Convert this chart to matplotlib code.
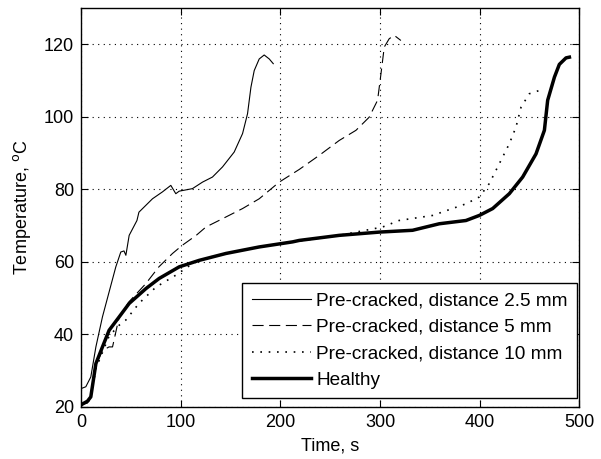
import matplotlib
matplotlib.use("Agg")
import matplotlib.pyplot as plt

plt.rcParams['font.family'] = ['Liberation Sans', 'DejaVu Sans']

# 2.5 mm pre-cracked (thin solid)
t_25 = [0, 4.7, 9.7, 14.8, 21.4, 28.1, 34.8, 39.8, 43, 44.9, 48.2, 56, 58, 71.6, 81.6, 90, 95, 98.4,
        111.7, 121.8, 131.8, 141.9, 153.6, 162, 167, 170.4, 173.7, 178.7, 183.7, 188.8, 192.8]
T_25 = [25, 25.5, 28.2, 36.5, 44.8, 51.7, 58.6, 62.7, 63, 61.8, 67.3, 71.4, 73.7, 77.4, 79.3, 81.1, 78.8, 79.5,
        80.2, 82, 83.4, 86.2, 90.3, 95.4, 100.9, 108.2, 112.8, 116, 117.1, 116, 114.7]

# 5 mm pre-cracked (dashed)
t_5 = [0, 6.3, 9.7, 14.8, 21.4, 28, 31.5, 38.2, 48.2, 65, 78, 91.7, 101.7, 115.5, 125.2, 141.9, 162, 178.7,
       198.8, 218.9, 239, 259, 275.8, 289, 297.5, 300.9, 304.2, 309.2, 314.3, 320.9]
T_5 = [20.5, 21, 22.7, 31.5, 35.5, 36.5, 36.5, 44.8, 49, 54, 58.6, 62.3, 64.6, 67.3, 69.6, 71.9, 74.7, 77.4,
       82, 85.5, 89.4, 93.5, 96.3, 99.9, 104.6, 111.9, 119.3, 121.6, 122.5, 121.1]

# 10 mm pre-cracked (dotted)
t_10 = [0, 6.3, 9.7, 14.8, 21.4, 28.1, 38.2, 44.8, 58, 75, 95, 111.7, 125, 145.3, 178.7, 212.2, 259,
        302.5, 319, 352.7, 386.2, 399.6, 409.6, 419.7, 429.7, 436.4, 441.5, 449.8, 459.8]
T_10 = [20.5, 21, 22.5, 30.5, 35, 39.5, 42.5, 43.9, 48.5, 53, 56.3, 59.5, 61, 62.3, 64.1, 65.5, 67.3,
        69.6, 71.4, 72.8, 76, 77.9, 81.6, 87.1, 92.6, 97.2, 102.7, 106.4, 107.3]

# Healthy (thick solid)
t_h = [0, 3, 6.3, 9.7, 14.8, 21.4, 28.1, 38.2, 48.2, 65, 78.3, 98.4, 118.5, 145.3, 178.7, 212.2, 218.9,
       259, 299.2, 332.6, 359.4, 386.2, 399.6, 413, 429.7, 443.1, 456.5, 464.9, 468.2, 475, 479.9, 486.6, 490]
T_h = [20.5, 21, 21.5, 22.7, 31.9, 36.5, 41.1, 44.8, 48.5, 52.6, 55.4, 58.6, 60.4, 62.3, 64.1, 65.5, 65.9,
       67.3, 68.2, 68.7, 70.5, 71.4, 72.8, 74.7, 78.8, 83.4, 89.8, 96.3, 104.6, 111, 114.5, 116.3, 116.5]

labels = ['Pre-cracked, distance 2.5 mm', 'Pre-cracked, distance 5 mm',
          'Pre-cracked, distance 10 mm', 'Healthy']

fig = plt.figure(figsize=(6.01, 4.59), dpi=100)
ax = fig.add_axes([0.135, 0.114, 0.829, 0.868])

ax.plot(t_25, T_25, color='black', lw=0.8, label=labels[0])
ax.plot(t_5, T_5, color='black', lw=0.8, ls=(0, (10, 5)), label=labels[1])
ax.plot(t_10, T_10, color='black', lw=1.2, ls=(0, (1, 4)), label=labels[2])
ax.plot(t_h, T_h, color='black', lw=2.5, label=labels[3])

ax.set_xlim(0, 500)
ax.set_ylim(20, 130)
ax.set_xticks([0, 100, 200, 300, 400, 500])
ax.set_yticks([20, 40, 60, 80, 100, 120])
ax.grid(True, color='black', ls=(0, (1, 4)), lw=0.8)
ax.tick_params(direction='in', top=True, right=True, labelsize=13, length=5)
ax.tick_params(axis='y', pad=5)
ax.tick_params(axis='x', pad=5)
for s in ax.spines.values():
    s.set_linewidth(1.0)
ax.set_xlabel('Time, s', fontsize=13, labelpad=5)
ax.set_ylabel('Temperature, $^{\\mathrm{o}}$C', fontsize=13, labelpad=8)

leg = ax.legend(loc='lower right', bbox_to_anchor=(0.996, 0.021), fontsize=13.7, frameon=True,
                fancybox=False, edgecolor='black', framealpha=1, handlelength=3.1,
                borderaxespad=0, labelspacing=0.48, handletextpad=0.3, borderpad=0.5)
leg.get_frame().set_linewidth(1.0)

fig.savefig('out.png', dpi=100)
